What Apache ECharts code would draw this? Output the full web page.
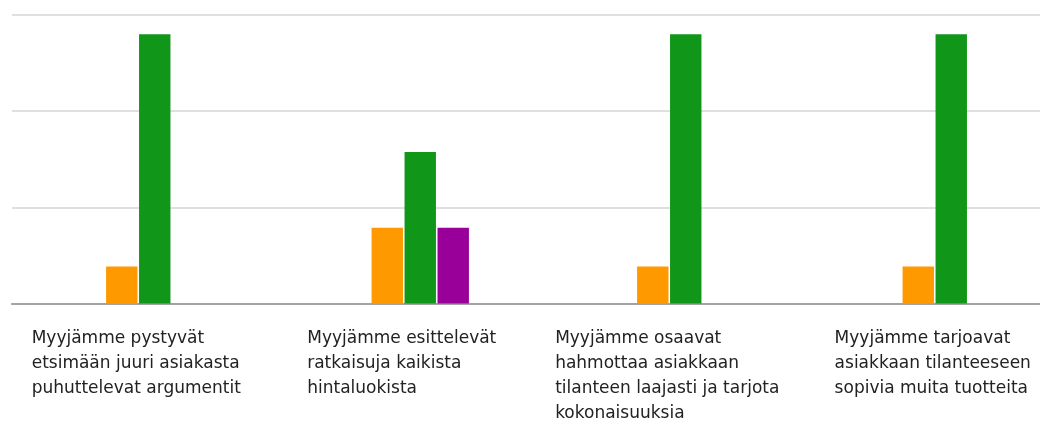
<!DOCTYPE html>
<html>
<head>
<meta charset="utf-8">
<script src="https://cdn.jsdelivr.net/npm/echarts@6/dist/echarts.min.js"></script>
<style>
  html, body { margin: 0; padding: 0; background: #fff; }
  #chart { width: 1040px; height: 423px; }
</style>
</head>
<body>
<div id="chart"></div>
<script>
// Statements (line breaks as they wrap under the columns)
const categories = [
  'Myyjämme pystyvät\netsimään juuri asiakasta\npuhuttelevat argumentit',
  'Myyjämme esittelevät\nratkaisuja kaikista\nhintaluokista',
  'Myyjämme osaavat\nhahmottaa asiakkaan\ntilanteen laajasti ja tarjota\nkokonaisuuksia',
  'Myyjämme tarjoavat\nasiakkaan tilanteeseen\nsopivia muita tuotteita'
];

// Answer shares per statement
const orangeValues = [9.6, 19.7, 9.6, 9.6];
const greenValues  = [70, 39.4, 70, 70];
const purpleValues = [0, 19.7, 0, 0];

// Value axis scale (gridline steps)
const yMin = 0;
const yMax = 75;
const yStep = 25;

const FONT = '"DejaVu Sans", Tahoma, sans-serif';
const TOP = 15;
const BOTTOM = 423 - 303.5;

const chart = echarts.init(document.getElementById('chart'), null, { renderer: 'canvas' });

chart.setOption({
  animation: false,
  backgroundColor: '#ffffff',
  grid: [
    // background grid: horizontal gridlines and the baseline
    { left: 12, right: 0, top: TOP, bottom: BOTTOM, containLabel: false, outerBoundsMode: 'none' },
    // column grid; its last category runs on past the right edge
    { left: 22, width: 1062, top: TOP, bottom: BOTTOM, containLabel: false, outerBoundsMode: 'none' }
  ],
  xAxis: [
    {
      gridIndex: 0, type: 'value', min: 0, max: 1,
      axisLine: { show: true, lineStyle: { color: '#a2a2a2', width: 2 } },
      axisTick: { show: false }, axisLabel: { show: false }, splitLine: { show: false }
    },
    {
      gridIndex: 1, type: 'category', data: categories,
      axisLine: { show: false }, axisTick: { show: false }, splitLine: { show: false },
      axisLabel: {
        interval: 0,
        align: 'center',
        verticalAlign: 'top',
        margin: 23,
        padding: [0, 37, 0, 0],
        formatter: v => v.split('\n').map(l => '{t|' + l + '}').join('\n'),
        rich: {
          t: { align: 'left', fontFamily: FONT, fontSize: 17, lineHeight: 25, color: '#222222' }
        }
      }
    }
  ],
  yAxis: [
    {
      gridIndex: 0, type: 'value', min: yMin, max: yMax, interval: yStep,
      axisLine: { show: false }, axisTick: { show: false }, axisLabel: { show: false },
      splitLine: { show: true, lineStyle: { color: '#dfdfdf', width: 2 } }
    },
    {
      gridIndex: 1, type: 'value', min: yMin, max: yMax, interval: yStep,
      axisLine: { show: false }, axisTick: { show: false }, axisLabel: { show: false },
      splitLine: { show: false }
    }
  ],
  series: [
    {
      type: 'bar', xAxisIndex: 1, yAxisIndex: 1, data: orangeValues,
      barWidth: 31.4, barGap: '5%', itemStyle: { color: '#ff9900' }
    },
    {
      type: 'bar', xAxisIndex: 1, yAxisIndex: 1, data: greenValues,
      barWidth: 31.4, barGap: '5%', itemStyle: { color: '#109618' }
    },
    {
      type: 'bar', xAxisIndex: 1, yAxisIndex: 1, data: purpleValues,
      barWidth: 31.4, barGap: '5%', itemStyle: { color: '#990099' }
    }
  ]
});
</script>
</body>
</html>
